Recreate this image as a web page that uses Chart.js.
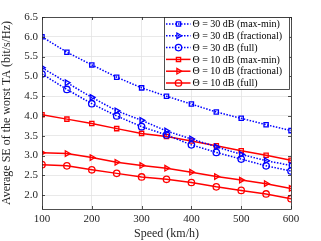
<!DOCTYPE html>
<html>
<head>
<meta charset="utf-8">
<script src="https://cdn.jsdelivr.net/npm/chart.js@4.4.1/dist/chart.umd.min.js"></script>
<style>
  html, body { margin: 0; padding: 0; background: #fff; }
  #wrap { width: 321px; height: 241px; }
</style>
</head>
<body>
<div id="wrap"><canvas id="c" width="321" height="241"></canvas></div>
<script>
// speeds (km/h)
const speeds = [100, 150, 200, 250, 300, 350, 400, 450, 500, 550, 600];

// average SE of worst TA, bit/s/Hz
const se30MaxMin = [6.00, 5.61, 5.29, 4.98, 4.71, 4.50, 4.30, 4.10, 3.94, 3.78, 3.63];
const se30Frac   = [5.22, 4.84, 4.47, 4.13, 3.89, 3.62, 3.42, 3.22, 3.03, 2.87, 2.75];
const se30Full   = [5.06, 4.67, 4.31, 4.00, 3.73, 3.52, 3.27, 3.08, 2.91, 2.74, 2.61];
const se10MaxMin = [4.03, 3.92, 3.81, 3.68, 3.56, 3.48, 3.37, 3.25, 3.12, 3.01, 2.88];
const se10Frac   = [3.07, 3.05, 2.95, 2.83, 2.75, 2.68, 2.58, 2.47, 2.38, 2.29, 2.17];
const se10Full   = [2.77, 2.74, 2.64, 2.55, 2.46, 2.40, 2.32, 2.21, 2.12, 2.03, 1.91];

const xTicks = [100, 200, 300, 400, 500, 600];
const yTicks = [2, 2.5, 3, 3.5, 4, 4.5, 5, 5.5, 6, 6.5];

const labels = [
  '\u0398 = 30 dB (max-min)',
  '\u0398 = 30 dB (fractional)',
  '\u0398 = 30 dB (full)',
  '\u0398 = 10 dB (max-min)',
  '\u0398 = 10 dB (fractional)',
  '\u0398 = 10 dB (full)'
];

const BLUE = '#0000ff';
const RED = '#ff0000';
const SERIF = '"Liberation Serif", "DejaVu Serif", serif';

function pts(vals) {
  return speeds.map((s, i) => ({ x: s, y: vals[i] }));
}

function series(label, vals, color, dashed, style) {
  return {
    label: label,
    data: pts(vals),
    borderColor: color,
    backgroundColor: 'rgba(255,255,255,0)',
    borderWidth: 1.5,
    borderDash: dashed ? [1.5, 1.5] : [],
    pointStyle: style,
    pointRotation: style === 'triangle' ? 90 : 0,
    pointRadius: style === 'rect' ? 3 : 3.2,
    pointBorderWidth: 1.3,
    pointBorderColor: color,
    pointBackgroundColor: 'rgba(255,255,255,0)',
    tension: 0
  };
}

// frame + inward ticks + legend box, drawn like the MATLAB figure
const framePlugin = {
  id: 'frame',
  afterDraw(chart) {
    const { ctx, chartArea: a, scales } = chart;
    ctx.save();
    ctx.strokeStyle = '#262626';
    ctx.lineWidth = 0.8;
    ctx.strokeRect(a.left + 0.5, a.top + 0.5, a.right - a.left, a.bottom - a.top);
    ctx.beginPath();
    xTicks.forEach(v => {
      const x = Math.round(scales.x.getPixelForValue(v)) + 0.5;
      ctx.moveTo(x, a.bottom); ctx.lineTo(x, a.bottom - 3);
      ctx.moveTo(x, a.top); ctx.lineTo(x, a.top + 3);
    });
    yTicks.forEach(v => {
      const y = Math.round(scales.y.getPixelForValue(v)) + 0.5;
      ctx.moveTo(a.left, y); ctx.lineTo(a.left + 3, y);
      ctx.moveTo(a.right, y); ctx.lineTo(a.right - 3, y);
    });
    ctx.stroke();

    // legend
    const bx = 164.5, by = 17.5, bw = 125, bh = 72, rowH = 11.8;
    ctx.fillStyle = '#fff';
    ctx.fillRect(bx, by, bw, bh);
    ctx.strokeStyle = '#262626';
    ctx.lineWidth = 0.8;
    ctx.strokeRect(bx, by, bw, bh);
    chart.data.datasets.forEach((ds, i) => {
      const y = by + 6.5 + i * rowH;
      ctx.strokeStyle = ds.borderColor;
      ctx.lineWidth = ds.borderWidth;
      ctx.setLineDash(ds.borderDash);
      ctx.beginPath();
      ctx.moveTo(bx + 1.5, y);
      ctx.lineTo(bx + 26, y);
      ctx.stroke();
      ctx.setLineDash([]);
      ctx.fillStyle = 'rgba(255,255,255,0)';
      ctx.strokeStyle = ds.borderColor;
      ctx.lineWidth = ds.pointBorderWidth;
      Chart.helpers.drawPoint(ctx, {
        pointStyle: ds.pointStyle,
        rotation: ds.pointRotation,
        radius: ds.pointRadius,
        borderWidth: ds.pointBorderWidth
      }, bx + 14, y);
      ctx.fillStyle = '#000';
      ctx.font = '10px ' + SERIF;
      ctx.textBaseline = 'middle';
      ctx.fillText(ds.label, bx + 28, y + 0.5, bw - 30);
    });
    ctx.restore();
  }
};

new Chart(document.getElementById('c'), {
  type: 'line',
  data: {
    datasets: [
      series(labels[0], se30MaxMin, BLUE, true, 'rect'),
      series(labels[1], se30Frac, BLUE, true, 'triangle'),
      series(labels[2], se30Full, BLUE, true, 'circle'),
      series(labels[3], se10MaxMin, RED, false, 'rect'),
      series(labels[4], se10Frac, RED, false, 'triangle'),
      series(labels[5], se10Full, RED, false, 'circle')
    ]
  },
  options: {
    responsive: false,
    animation: false,
    layout: { padding: { top: 17, right: 30, left: 0, bottom: 0 } },
    plugins: {
      legend: { display: false },
      tooltip: { enabled: false }
    },
    scales: {
      x: {
        type: 'linear',
        min: 100,
        max: 600,
        afterBuildTicks: s => { s.ticks = xTicks.map(v => ({ value: v })); },
        afterFit: s => { s.height = 32; },
        grid: { color: '#e3e3e3', drawTicks: false, lineWidth: 0.8 },
        border: { display: false },
        ticks: { color: '#262626', font: { family: SERIF, size: 11 }, padding: 4, maxRotation: 0 },
        title: { display: true, text: 'Speed (km/h)', color: '#262626', font: { family: SERIF, size: 12 }, padding: { top: 0, bottom: 0 } }
      },
      y: {
        type: 'linear',
        min: 1.65,
        max: 6.5,
        afterBuildTicks: s => { s.ticks = yTicks.map(v => ({ value: v })); },
        afterFit: s => { s.width = 42; },
        grid: { color: '#e3e3e3', drawTicks: false, lineWidth: 0.8 },
        border: { display: false },
        ticks: { color: '#262626', font: { family: SERIF, size: 11 }, padding: 4 },
        title: { display: true, text: 'Average SE of the worst TA (bit/s/Hz)', color: '#262626', font: { family: SERIF, size: 12 }, padding: { top: 0, bottom: 2 } }
      }
    }
  },
  plugins: [framePlugin]
});
</script>
</body>
</html>
